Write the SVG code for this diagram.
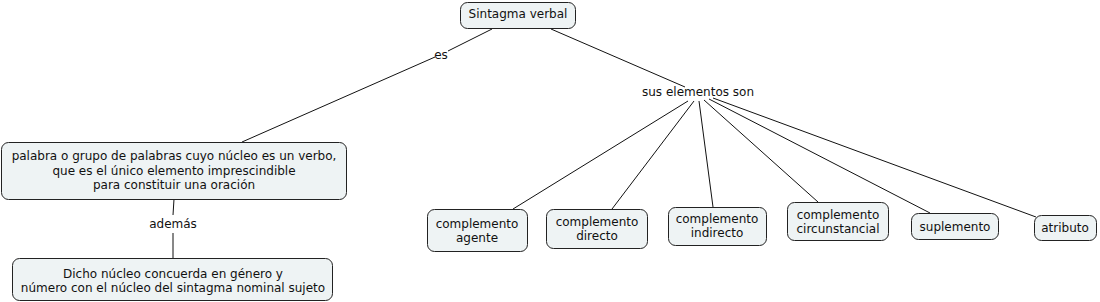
<svg xmlns="http://www.w3.org/2000/svg" width="1100" height="302" viewBox="0 0 1100 302">
<style>
.n rect{fill:#eef3f4;stroke:#222;stroke-width:1}
text{font-family:"DejaVu Sans",Verdana,sans-serif;font-size:12px;fill:#111;text-anchor:middle}
.c line{stroke:#111;stroke-width:1}
</style>
<rect width="1100" height="302" fill="#fff"/>
<g class="c">
<line x1="492" y1="29" x2="448" y2="51"/>
<line x1="435" y1="57" x2="242" y2="142"/>
<line x1="551" y1="29" x2="685" y2="87"/>
<line x1="688" y1="101" x2="513" y2="209"/>
<line x1="694" y1="101" x2="612" y2="209"/>
<line x1="699" y1="101" x2="713" y2="207"/>
<line x1="704" y1="100" x2="818" y2="202"/>
<line x1="709" y1="99" x2="930" y2="213"/>
<line x1="713" y1="98" x2="1036" y2="217"/>
<line x1="174" y1="199" x2="173" y2="215"/>
<line x1="173" y1="233" x2="173" y2="258"/>
</g>
<g id="lbl-es"><text x="441" y="59">es</text></g>
<g id="lbl-sus"><text x="698" y="96">sus elementos son</text></g>
<g id="lbl-ademas"><text x="173" y="228">además</text></g>
<g id="n-sv" class="n"><rect x="460.5" y="2.5" width="115" height="26" rx="7"/><text x="518" y="18">Sintagma verbal</text></g>
<g id="n-def" class="n"><rect x="1.5" y="142.5" width="345" height="57" rx="7"/>
<text x="174" y="160">palabra o grupo de palabras cuyo núcleo es un verbo,</text>
<text x="174" y="175">que es el único elemento imprescindible</text>
<text x="174" y="189">para constituir una oración</text></g>
<g id="n-nucleo" class="n"><rect x="12.5" y="258.5" width="320" height="42" rx="7"/>
<text x="173" y="278">Dicho núcleo concuerda en género y</text>
<text x="173" y="292">número con el núcleo del sintagma nominal sujeto</text></g>
<g id="n-agente" class="n"><rect x="427.5" y="209.5" width="100" height="42" rx="7"/>
<text x="477" y="228">complemento</text><text x="477" y="242">agente</text></g>
<g id="n-directo" class="n"><rect x="546.5" y="209.5" width="101" height="39" rx="7"/>
<text x="597" y="226">complemento</text><text x="597" y="240">directo</text></g>
<g id="n-indirecto" class="n"><rect x="668.5" y="207.5" width="98" height="38" rx="7"/>
<text x="717" y="223">complemento</text><text x="717" y="237">indirecto</text></g>
<g id="n-circ" class="n"><rect x="787.5" y="202.5" width="101" height="38" rx="7"/>
<text x="838" y="219">complemento</text><text x="838" y="233">circunstancial</text></g>
<g id="n-supl" class="n"><rect x="911.5" y="213.5" width="87" height="26" rx="7"/>
<text x="955" y="231">suplemento</text></g>
<g id="n-atrib" class="n"><rect x="1034.5" y="215.5" width="62" height="25" rx="7"/>
<text x="1065" y="232">atributo</text></g>
</svg>
